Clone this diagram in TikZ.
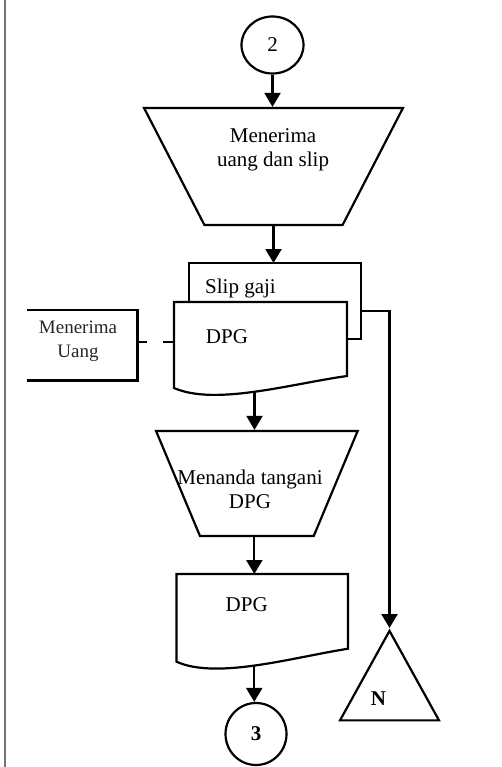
\documentclass[tikz,border=0pt]{standalone}
\usepackage{fontspec}
\setmainfont{Liberation Serif}
\usetikzlibrary{arrows.meta,calc,shapes.geometric}
\definecolor{figline}{RGB}{0,0,0}
\tikzset{
  ln/.style   ={draw=figline, line width=2.2pt},
  lab/.style  ={font=\fontsize{21}{24}\selectfont, align=center, inner sep=0pt},
  labb/.style ={font=\fontsize{21}{24}\selectfont\bfseries, inner sep=0pt},
  ptr/.style  ={ln, -{Triangle[length=14pt,width=16pt]}},
  conn/.style ={ln, ellipse, inner sep=0pt},
  man/.style  ={ln, fill=white, trapezium, trapezium stretches, shape border rotate=180, inner sep=3pt},
  docb/.style ={rectangle, inner sep=0pt, outer sep=0pt},
}
\begin{document}
\begin{tikzpicture}[x=1pt,y=-1pt]
  \useasboundingbox (0,0) rectangle (501,767);
  \draw[draw=figline!55,line width=2pt] (5,0) -- (5,767);
  \node[conn,lab,minimum width=62pt,minimum height=57pt] (c2) at (272.5,45) {2};
  \node[man,minimum width=259pt,minimum height=117pt,trapezium left angle=66.4,trapezium right angle=66.4] (trap1) at (273.5,166.5) {};
  \node[lab] (trap1txt) at (273,150) {Menerima\\uang dan slip};
  \node[docb,ln,fill=white,minimum width=172pt,minimum height=76pt] (slip) at (275,301) {};
  \node[lab,anchor=west] (sliptxt) at (205,288) {Slip gaji};
  \node[docb,minimum width=173pt,minimum height=86pt] (dpg1) at (260.5,345) {};
  \path[ln,fill=white] (dpg1.south west) -- (dpg1.north west) -- (dpg1.north east) -- ($(dpg1.south east)+(0,-12)$)
    .. controls ($(dpg1.south west)+(116,-4)$) and ($(dpg1.south west)+(41,18)$) .. (dpg1.south west) -- cycle;
  \node[lab] (dpg1txt) at (227,337) {DPG};
  \node[docb,minimum width=110.5pt,minimum height=70.5pt] (terima) at (82.25,345.25) {};
  \draw[ln] (terima.north west) -- (terima.north east) -- (terima.south east) -- (terima.south west);
  \node[lab,font=\fontsize{19}{24}\selectfont,text=figline!85] (terimatxt) at (78,341) {Menerima\\Uang};
  \draw[ln,dash pattern=on 9pt off 16pt on 14pt] ([yshift=3pt]terima.east) -- ([yshift=3pt]terima.east -| dpg1.west);
  \node[man,minimum width=201.7pt,minimum height=105pt,trapezium left angle=68.9,trapezium right angle=68.9] (trap2) at (256.85,483.5) {};
  \node[lab] (trap2txt) at (250,489) {Menanda tangani\\DPG};
  \node[docb,minimum width=171.5pt,minimum height=87.7pt] (dpg2) at (262.25,617.85) {};
  \path[ln,fill=white] (dpg2.south west) -- (dpg2.north west) -- (dpg2.north east) -- ($(dpg2.south east)+(0,-13)$)
    .. controls ($(dpg2.south west)+(115,-4)$) and ($(dpg2.south west)+(40,18)$) .. (dpg2.south west) -- cycle;
  \node[lab] (dpg2txt) at (246.7,605) {DPG};
  \node[conn,labb,minimum width=61pt,minimum height=62pt] (c3) at (256,734) {3};
  \node[ln,isosceles triangle,isosceles triangle stretches,shape border rotate=90,minimum width=99pt,minimum height=89.5pt,inner sep=3pt,anchor=apex] (arsip) at (389.5,628) {};
  \node[labb] (arsiptxt) at (378.5,699) {N};
  \draw[ptr] (c2.south) -- (c2.south |- trap1.north);
  \draw[ptr] (trap1.south) -- (trap1.south |- slip.north);
  \draw[ptr] ([xshift=-6pt,yshift=-4pt]dpg1.south) -- ([xshift=-6pt]dpg1.south |- trap2.north);
  \draw[ptr] ([xshift=-2.5pt]trap2.south) -- ([xshift=-2.5pt]trap2.south |- dpg2.north);
  \draw[ptr] ([xshift=-8pt,yshift=-3pt]dpg2.south) -- ([xshift=-8pt]dpg2.south |- c3.north);
  \draw[ptr] ([yshift=-9.7pt]slip.east) -| (arsip.apex);
\end{tikzpicture}
\end{document}
